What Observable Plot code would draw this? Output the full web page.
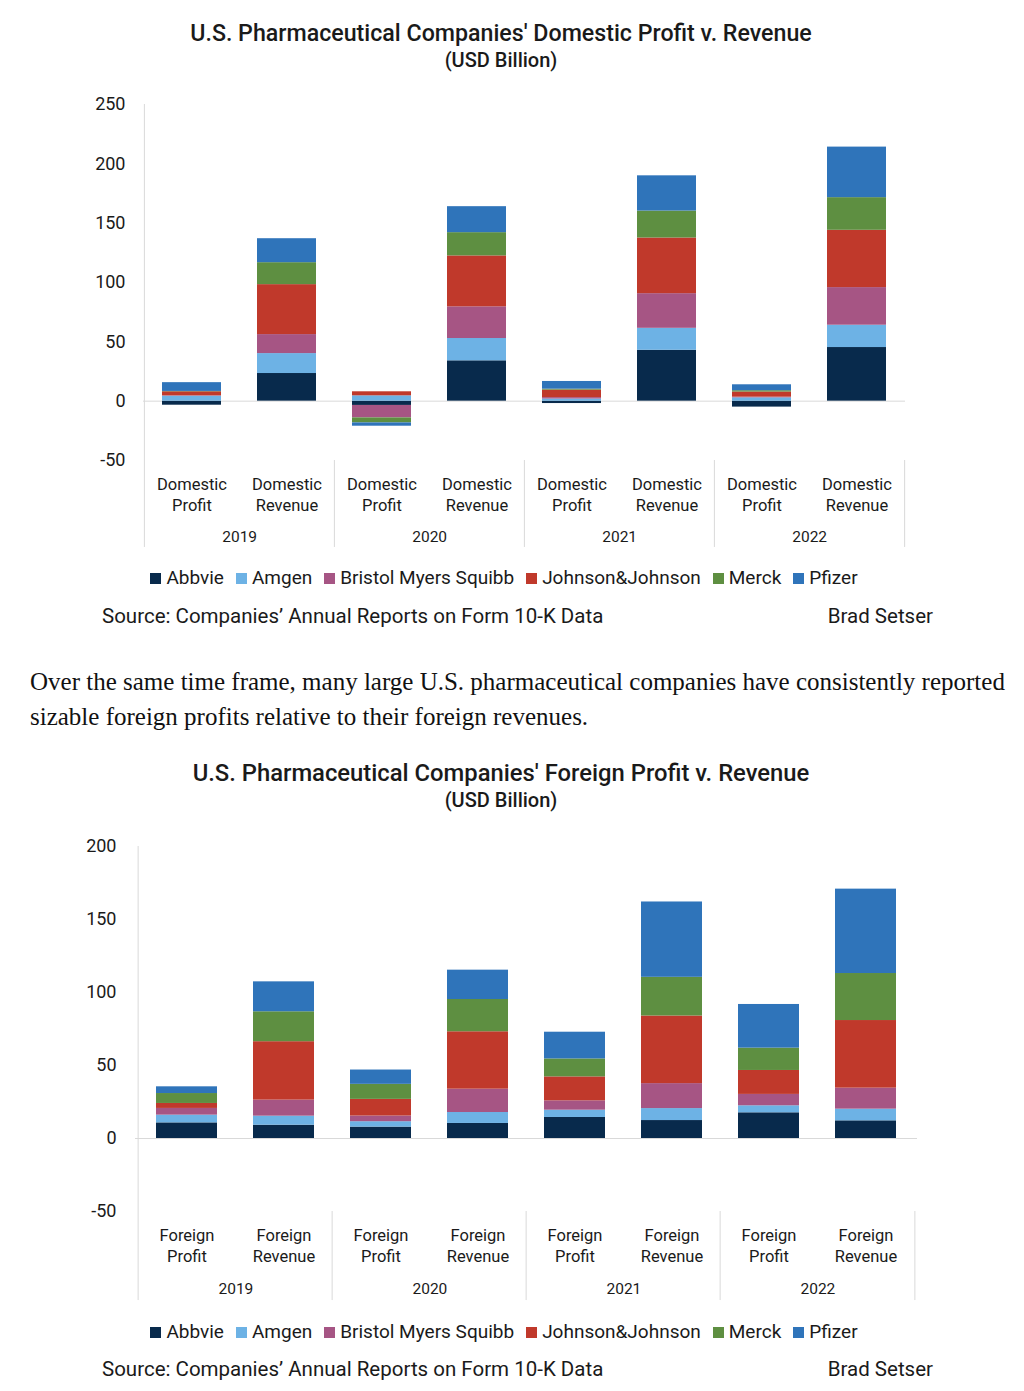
<!DOCTYPE html>
<html><head><meta charset="utf-8">
<script src="https://cdn.jsdelivr.net/npm/d3@7"></script>
<script src="https://cdn.jsdelivr.net/npm/@observablehq/plot@0.6"></script>
<style>
body{margin:0;background:#fff;width:1024px;height:1391px;position:relative;font-family:Roboto,sans-serif;color:#1a1a1a;overflow:hidden;}
.abs{position:absolute;left:0;width:1024px;}
.title{text-align:center;font-size:23.2px;font-weight:500;line-height:26px;width:1002px !important;}
.title2{font-size:23.8px;}
.sub{text-align:center;font-size:20px;font-weight:500;line-height:24px;width:1002px !important;}
.legend{display:flex;justify-content:center;align-items:center;font-size:19px;line-height:22px;width:1008px !important;}
.legend span.item{display:inline-flex;align-items:center;margin:0 6px;}
.legend span.sw{display:inline-block;width:11px;height:11px;margin-right:5px;}
.source{font-size:20.5px;line-height:24px;}
.para{font-family:"Liberation Serif",serif;font-size:25px;line-height:35px;color:#111;}
</style></head><body>
<script>
const companies = ["Abbvie","Amgen","Bristol Myers Squibb","Johnson&Johnson","Merck","Pfizer"];
const colors = ["#082a4c","#6db2e5","#a65584","#c0392b","#5e8f41","#2f74ba"];
const years = ["2019","2020","2021","2022"];
const measures = ["Profit","Revenue"];
// values by year (rows) and company (columns), USD billion
const domesticProfit = [
  [-3.4, 4.2, 0.3, 3.4, 0.3, 7.4],
  [-3.6, 4.5, -10.5, 3.4, -4.2, -2.8],
  [-2.0, 1.8, 1.2, 6.3, 0.8, 6.5],
  [-5.0, 2.8, 0.6, 4.3, 1.1, 5.0]
];
const domesticRevenue = [
  [23.3, 16.8, 16.0, 42.1, 18.5, 20.2],
  [34.0, 18.8, 26.7, 42.9, 19.6, 21.9],
  [42.9, 18.5, 29.2, 46.9, 22.7, 29.7],
  [45.2, 18.8, 31.7, 48.3, 27.5, 42.6]
];
const foreignProfit = [
  [10.7, 5.3, 4.6, 3.4, 6.8, 4.6],
  [7.8, 3.7, 3.9, 11.4, 10.3, 9.8],
  [14.4, 5.0, 6.4, 16.4, 12.3, 18.3],
  [17.6, 4.8, 7.8, 16.4, 15.3, 29.9]
];
const foreignRevenue = [
  [9.1, 6.2, 11.0, 40.0, 20.5, 20.5],
  [10.3, 7.5, 16.0, 39.3, 22.1, 20.1],
  [12.3, 8.2, 17.1, 46.3, 26.5, 51.6],
  [12.1, 8.0, 14.4, 46.3, 32.2, 57.8]
];
const domesticTicks = [-50, 0, 50, 100, 150, 200, 250];
const foreignTicks = [-50, 0, 50, 100, 150, 200];

function rows(profit, revenue) {
  const out = [];
  years.forEach((yr, i) => {
    measures.forEach(m => {
      const vals = m === "Profit" ? profit[i] : revenue[i];
      companies.forEach((c, j) => out.push({key: yr + " " + m, company: c, value: vals[j]}));
    });
  });
  return out;
}

function chart(o) {
  const width = 1024;
  const keys = years.flatMap(y => measures.map(m => y + " " + m));
  const step = (width - o.marginLeft - o.marginRight) / keys.length;
  const grid = "#d9d9d9";
  return Plot.plot({
    width, height: o.height, marginLeft: o.marginLeft, marginRight: o.marginRight,
    marginTop: o.marginTop, marginBottom: o.marginBottom,
    style: {fontFamily: "Roboto, sans-serif", fontSize: "15px", color: "#1a1a1a", background: "white", overflow: "visible"},
    x: {domain: keys, paddingInner: o.padding, paddingOuter: o.padding / 2, label: null},
    y: {domain: o.yDomain, label: null},
    color: {domain: companies, range: colors},
    marks: [
      Plot.ruleY([0], {stroke: grid}),
      Plot.ruleX([keys[0]], {x: d => d, dx: -step / 2, y1: o.yDomain[1], y2: o.sepBottom, stroke: grid}),
      Plot.ruleX(years.slice(1).map(y => y + " Profit"), {x: d => d, dx: -step / 2, y1: o.yDomain[0], y2: o.sepBottom, stroke: grid}),
      Plot.ruleX([keys[keys.length - 1]], {x: d => d, dx: step / 2, y1: o.yDomain[0], y2: o.sepBottom, stroke: grid}),
      Plot.barY(o.data, {x: "key", y: "value", fill: "company"}),
      Plot.axisY({ticks: o.ticks, tickSize: 0, tickPadding: o.tickPad, fontSize: 18, label: null, tickFormat: d => String(d)}),
      Plot.axisX({tickSize: 0, tickPadding: 14, fontSize: 16.5, lineHeight: 1.3, label: null, tickFormat: d => o.prefix + "\n" + d.split(" ")[1]}),
      Plot.text(years, {x: d => d + " Profit", dx: step / 2, y: o.yDomain[0], dy: o.yearDy, text: d => d, fontSize: 15.5})
    ]
  });
}

function place(el, top) { el.classList.add("abs"); el.style.top = top + "px"; document.body.appendChild(el); return el; }
function div(cls, html, top) { const d = document.createElement("div"); d.className = cls; d.innerHTML = html; return place(d, top); }
function legend(top) {
  const d = document.createElement("div"); d.className = "legend";
  companies.forEach((c, i) => {
    const it = document.createElement("span"); it.className = "item";
    it.innerHTML = `<span class="sw" style="background:${colors[i]}"></span>${c}`;
    d.appendChild(it);
  });
  return place(d, top);
}
function source(top) {
  div("source", `<span style="position:absolute;left:102px">Source: Companies\u2019 Annual Reports on Form 10-K Data</span><span style="position:absolute;right:91px">Brad Setser</span>`, top);
}

// Chart 1
div("title", "U.S. Pharmaceutical Companies' Domestic Profit v. Revenue", 20);
div("sub", "(USD Billion)", 48);
const c1 = chart({data: rows(domesticProfit, domesticRevenue), prefix: "Domestic", yDomain: [-50, 250], ticks: domesticTicks,
  marginLeft: 143, marginRight: 119, marginTop: 19, marginBottom: 95, height: 470, sepBottom: -123.3, padding: 0.38, tickPad: 18, yearDy: 77});
place(c1, 85);
legend(567);
source(604);

const p = div("para", "Over the same time frame, many large U.S. pharmaceutical companies have consistently reported<br>sizable foreign profits relative to their foreign revenues.", 664);
p.style.left = "30px"; p.style.width = "994px";

// Chart 2
div("title title2", "U.S. Pharmaceutical Companies' Foreign Profit v. Revenue", 760);
div("sub", "(USD Billion)", 788);
const c2 = chart({data: rows(foreignProfit, foreignRevenue), prefix: "Foreign", yDomain: [-50, 200], ticks: foreignTicks,
  marginLeft: 135, marginRight: 107, marginTop: 16, marginBottom: 95, height: 476, sepBottom: -111, padding: 0.376, tickPad: 19, yearDy: 78});
place(c2, 830);
legend(1321);
source(1357);
</script>
</body></html>
